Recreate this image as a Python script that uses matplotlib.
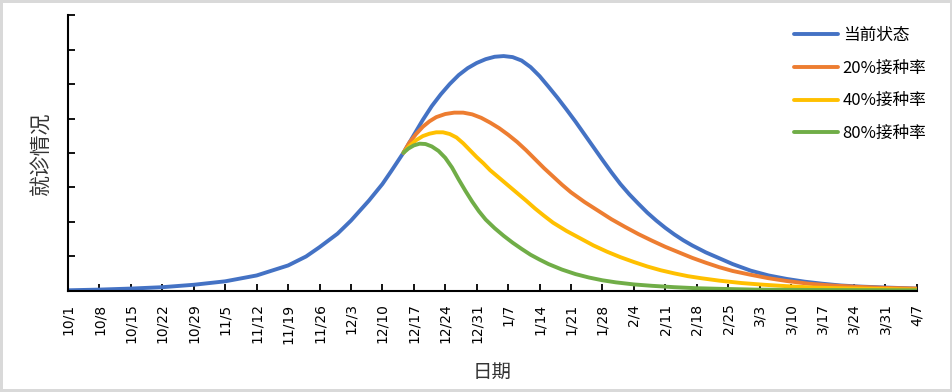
import matplotlib.pyplot as plt

# x: days since 10/1, y: values (axis units 0-8)
blue_days = [0, 7, 14, 21, 28, 35, 42, 49, 53, 56, 60, 63, 67, 70, 72, 74.7, 77, 79, 81, 83, 85,
             87, 89, 91, 93, 95, 97, 99, 101, 103, 105, 107, 109, 111, 113, 115, 117, 119, 121,
             123, 125, 127, 129, 131, 133, 135, 137, 139, 142, 145, 148, 152, 156, 160, 164,
             168, 172, 176, 182, 189]
blue_vals = [0.02, 0.04, 0.07, 0.11, 0.18, 0.28, 0.45, 0.74, 1.00, 1.27, 1.66, 2.04, 2.62, 3.10,
             3.48, 4.01, 4.52, 4.96, 5.36, 5.70, 6.00, 6.26, 6.46, 6.61, 6.72, 6.79, 6.81, 6.78,
             6.68, 6.49, 6.23, 5.92, 5.60, 5.26, 4.91, 4.54, 4.17, 3.80, 3.44, 3.10, 2.80, 2.53,
             2.27, 2.04, 1.83, 1.64, 1.47, 1.32, 1.12, 0.95, 0.78, 0.59, 0.45, 0.35, 0.27, 0.21,
             0.16, 0.13, 0.10, 0.07]

orange_days = [74.7, 76, 77.5, 79, 80.5, 82, 84, 86, 88, 90, 92, 94, 96, 98, 100, 102, 104, 106,
               108, 110, 112, 115, 118, 121, 124, 127, 130, 133, 136, 139, 142, 145, 148, 152,
               156, 160, 165, 170, 176, 182, 189]
orange_vals = [4.01, 4.30, 4.55, 4.76, 4.92, 5.04, 5.13, 5.17, 5.17, 5.12, 5.02, 4.88, 4.72, 4.53,
               4.32, 4.08, 3.82, 3.56, 3.32, 3.08, 2.86, 2.58, 2.33, 2.08, 1.86, 1.65, 1.46, 1.28,
               1.12, 0.96, 0.82, 0.69, 0.58, 0.47, 0.37, 0.29, 0.21, 0.16, 0.12, 0.09, 0.07]

yellow_days = [74.7, 76, 77.5, 79, 80.5, 82, 83.5, 85, 86.5, 88, 89.5, 91, 92.5, 94, 96, 98, 100,
               102, 104, 106, 108, 111, 114, 117, 120, 123, 126, 129, 132, 135, 138, 141, 145,
               150, 155, 160, 166, 172, 180, 189]
yellow_vals = [4.01, 4.20, 4.37, 4.49, 4.56, 4.60, 4.60, 4.55, 4.45, 4.28, 4.08, 3.88, 3.70, 3.50,
               3.28, 3.06, 2.84, 2.62, 2.39, 2.18, 1.98, 1.74, 1.53, 1.32, 1.14, 0.98, 0.84, 0.71,
               0.60, 0.51, 0.43, 0.37, 0.30, 0.23, 0.18, 0.14, 0.10, 0.08, 0.06, 0.04]

green_days = [74.7, 75.8, 77, 78.3, 79.6, 81, 82.5, 84, 85.5, 87, 88.5, 90, 91.5, 93, 95, 97, 99,
              101, 103, 105, 107, 110, 113, 116, 119, 122, 126, 130, 135, 140, 146, 153, 165, 189]
green_vals = [4.01, 4.13, 4.22, 4.27, 4.26, 4.19, 4.06, 3.86, 3.58, 3.23, 2.90, 2.59, 2.31, 2.07,
              1.82, 1.60, 1.40, 1.22, 1.05, 0.91, 0.78, 0.62, 0.49, 0.39, 0.31, 0.25, 0.19, 0.15,
              0.11, 0.08, 0.06, 0.04, 0.03, 0.02]

tick_labels = ['10/1', '10/8', '10/15', '10/22', '10/29', '11/5', '11/12', '11/19', '11/26',
               '12/3', '12/10', '12/17', '12/24', '12/31', '1/7', '1/14', '1/21', '1/28',
               '2/4', '2/11', '2/18', '2/25', '3/3', '3/10', '3/17', '3/24', '3/31', '4/7']

series_names = ['当前状态', '20%接种率', '40%接种率', '80%接种率']
colors = ['#4472C4', '#ED7D31', '#FFC000', '#70AD47']

plt.rcParams['font.family'] = ['Noto Sans CJK SC', 'DejaVu Sans']

fig = plt.figure(figsize=(9.53, 3.92), dpi=100)
fig.patch.set_edgecolor('#d9d9d9')
fig.patch.set_linewidth(3)
ax = fig.add_axes([0.0714, 0.2577, 0.8906, 0.704])

data = [(blue_days, blue_vals), (orange_days, orange_vals),
        (yellow_days, yellow_vals), (green_days, green_vals)]
for (d, v), name, c in zip(data, series_names, colors):
    ax.plot(d, v, color=c, lw=2.8, label=name, solid_capstyle='round', solid_joinstyle='round')

ax.set_xlim(0, 189)
ax.set_ylim(0, 8)
ax.set_xticks([7 * i for i in range(len(tick_labels))])
ax.set_xticklabels(tick_labels, rotation=90, fontsize=10, family=['DejaVu Sans'])
ax.set_yticks(range(9))
ax.set_yticklabels([])
ax.tick_params(axis='both', direction='in', length=5, width=1.3, color='black')
ax.tick_params(axis='x', pad=9)

for s in ['top', 'right']:
    ax.spines[s].set_visible(False)
for s in ['left', 'bottom']:
    ax.spines[s].set_linewidth(1.5)
    ax.spines[s].set_color('black')

ax.set_ylabel('就诊情况', fontsize=15, labelpad=8, color='#333333')
ax.set_xlabel('日期', fontsize=14, labelpad=13, color='#333333')

ax.legend(loc='upper left', bbox_to_anchor=(0.838, 1.012), frameon=False, fontsize=12,
          handlelength=2.6, handletextpad=0.3, labelspacing=0.95)

fig.savefig('out.png', dpi=100)
